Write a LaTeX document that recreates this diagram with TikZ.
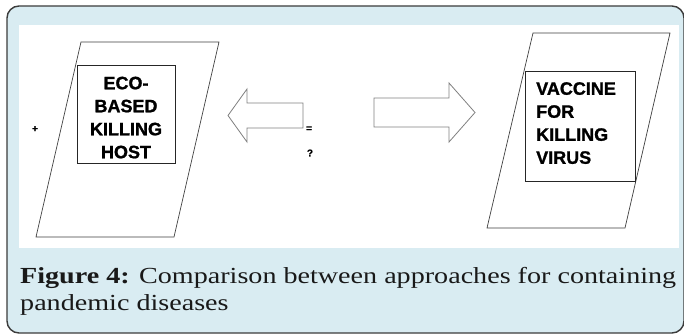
\documentclass[tikz,border=0pt]{standalone}
\usepackage{fontspec}
\setmainfont{Liberation Serif}
\newfontfamily\labelfont[FakeBold=1.2]{Liberation Sans Bold}
\newfontfamily\signfont[FakeBold=1]{Liberation Sans Bold}
\definecolor{framebg}{RGB}{217,236,242}
\definecolor{framerim}{RGB}{60,60,60}
\newlength\capw
\newcommand\capline{\textbf{Figure 4:} Comparison between approaches for containing}
\begin{document}
% stretch factor so the first caption line spans the frame
\settowidth\capw{\fontsize{23}{27}\selectfont\capline}
\pgfmathsetmacro\capx{656/\capw}
\begin{tikzpicture}[x=1pt,y=-1pt,
  panel/.style={draw=black!75, line width=0.7pt},
  box/.style={draw=black!85, fill=white, line width=0.7pt, inner sep=0pt},
  hollowarrow/.style={draw=black!50, fill=white, line width=0.8pt, line join=miter},
  boxtext/.style={font=\labelfont\fontsize{18}{23}\selectfont, inner sep=0pt},
  signtext/.style={font=\signfont\fontsize{10}{11}\selectfont, inner sep=0pt},
  captext/.style={font=\fontsize{23}{27}\selectfont, text=black!90, inner sep=0pt, anchor=base west}]
\useasboundingbox (0,0) rectangle (684,334);

% caption frame and white figure area
\draw[fill=framebg, draw=framerim, line width=1.4pt, rounded corners=12pt] (7,6) rectangle (684,333);
\fill[white] (19,25) rectangle (679,248);

% the two slanted panels
\draw[panel] (81,42) -- (219,42) -- (174,237) -- (36,237) -- cycle;
\draw[panel] (533,33) -- (670,33) -- (625,228) -- (487,228) -- cycle;

% labelled boxes
\node[box, minimum width=98pt, minimum height=98pt] (ecobox) at (126,114) {};
\node[box, minimum width=110pt, minimum height=110pt] (vacbox) at (580,126) {};
\node[boxtext, align=center, anchor=north] (ecotext) at (126,76.5) {ECO-\\BASED\\KILLING\\HOST};
\node[boxtext, align=left, anchor=north west] (vactext) at (536,82) {VACCINE\\FOR\\KILLING\\VIRUS};

% hollow block arrows
\draw[hollowarrow] (228,115.5) -- (247,89) -- (247,103) -- (303,103) -- (303,128) -- (247,128) -- (247,142) -- cycle;
\draw[hollowarrow] (475,112.5) -- (449,83) -- (449,98) -- (374,98) -- (374,127) -- (449,127) -- (449,142) -- cycle;

% small signs
\node[signtext] (plus) at (35,129) {+};
\node[signtext] (equal) at (309,129) {=};
\node[signtext] (query) at (310,153) {?};

% caption
\node[captext] (capA) at (20,283) {\scalebox{\capx}[1]{\capline}};
\node[captext] (capB) at (20,310) {\scalebox{\capx}[1]{pandemic diseases}};
\end{tikzpicture}
\end{document}
